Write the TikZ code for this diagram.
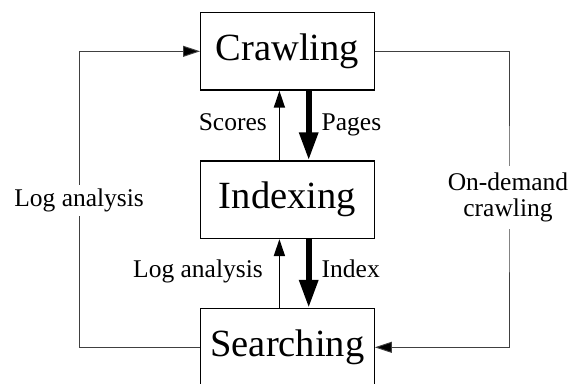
\documentclass[tikz,border=0pt]{standalone}
\usepackage{fontspec}
\setmainfont{Liberation Serif}
\usetikzlibrary{arrows.meta}
\begin{document}
\begin{tikzpicture}[x=1pt,y=-1pt,
  box/.style={draw, line width=1.3pt, minimum width=173.5pt, minimum height=77.5pt, inner sep=0pt, font=\fontsize{38.5}{44}\selectfont},
  lbl/.style={inner sep=0pt, font=\fontsize{25.5}{26}\selectfont},
  thinarrow/.style={line width=1.8pt, -{Triangle[length=17pt,width=11pt]}},
  thickarrow/.style={line width=6pt, -{Triangle[length=28pt,width=18pt]}},
  loop/.style={line width=0.9pt, draw=black!75, -{Triangle[length=17pt,width=11pt,fill=black]}}]
\useasboundingbox (0,0) rectangle (573,383);
\clip (0,0) rectangle (573,383);
\node[box] (C) at (287.4,51.3) {Crawling};
\node[box] (I) at (287.4,199.7) {Indexing};
\node[box] (S) at (287.4,347.3) {Searching};
% vertical arrows
\draw[thinarrow] ([xshift=-8pt]I.north) -- ([xshift=-8pt]C.south);
\draw[thickarrow] ([xshift=21.3pt]C.south) -- ([xshift=21.3pt]I.north);
\draw[thinarrow] ([xshift=-8pt]S.north) -- ([xshift=-8pt]I.south);
\draw[thickarrow] ([xshift=21.3pt]I.south) -- ([xshift=21.3pt]S.north);
\node[lbl, anchor=base east] (ls) at (267,130) {Scores};
\node[lbl, anchor=base west] (lp) at (321.5,130) {Pages};
\node[lbl, anchor=base east] (la) at (263,277.3) {Log analysis};
\node[lbl, anchor=base west] (li) at (321.5,277.3) {Index};
% loops
\coordinate (L) at (79.8,199);
\coordinate (R) at (509,199);
\draw[loop] (S.west) -| (L) |- (C.west);
\draw[loop] (C.east) -| (R) |- (S.east);
\node[lbl, fill=white, inner xsep=2pt, inner ysep=4pt, anchor=base] (ll) at (79.1,206.5) {Log analysis};
\node[lbl, fill=white, inner xsep=2pt, inner ysep=7pt, align=center] (lr) at (508,197.2) {On-demand\\crawling};
\end{tikzpicture}
\end{document}
